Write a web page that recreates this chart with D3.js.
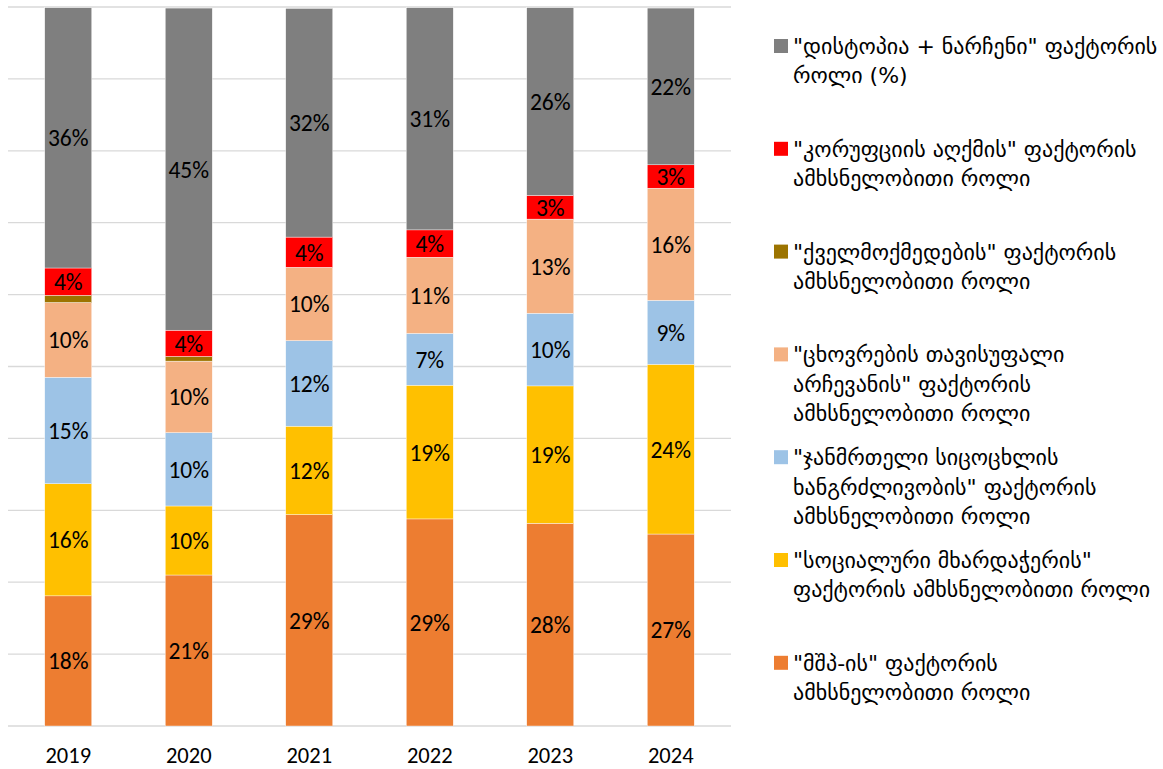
<!DOCTYPE html>
<html>
<head>
<meta charset="utf-8">
<script src="https://cdn.jsdelivr.net/npm/d3@7"></script>
<style>
  body { margin: 0; background: #fff; }
  #chart { width: 1163px; height: 769px; }
</style>
</head>
<body>
<div id="chart"></div>
<script>
// data (% shares, stacked bottom -> top)
var years = ["2019", "2020", "2021", "2022", "2023", "2024"];
var gdp        = [18.1, 21.0, 29.4, 28.8, 28.2, 26.7];
var social     = [15.6, 9.6, 12.3, 18.6, 19.1, 23.6];
var health     = [14.8, 10.2, 11.9, 7.2, 10.1, 8.9];
var freedom    = [10.4, 9.95, 10.2, 10.6, 13.1, 15.6];
var generosity = [1.0, 0.65, 0, 0, 0, 0];
var corruption = [3.8, 3.65, 4.2, 3.8, 3.3, 3.25];
var dystopia   = [36.2, 44.8, 31.8, 30.9, 26.1, 21.8];

var keys = ["gdp", "social", "health", "freedom", "generosity", "corruption", "dystopia"];
var colors = ["#ED7D31", "#FFC000", "#9DC3E6", "#F4B183", "#9C7400", "#FF0000", "#7F7F7F"];
var showLabel = [true, true, true, true, false, true, true];

// legend text, one array of lines per series (same order as keys)
var legendLines = [
  ["\"მშპ-ის\" ფაქტორის", "ამხსნელობითი როლი"],
  ["\"სოციალური მხარდაჭერის\"", "ფაქტორის ამხსნელობითი როლი"],
  ["\"ჯანმრთელი სიცოცხლის", "ხანგრძლივობის\" ფაქტორის", "ამხსნელობითი როლი"],
  ["\"ცხოვრების თავისუფალი", "არჩევანის\" ფაქტორის", "ამხსნელობითი როლი"],
  ["\"ქველმოქმედების\" ფაქტორის", "ამხსნელობითი როლი"],
  ["\"კორუფციის აღქმის\" ფაქტორის", "ამხსნელობითი როლი"],
  ["\"დისტოპია + ნარჩენი\" ფაქტორის", "როლი (%)"]
];

var rows = years.map(function(y, i) {
  return { year: y, gdp: gdp[i], social: social[i], health: health[i], freedom: freedom[i],
           generosity: generosity[i], corruption: corruption[i], dystopia: dystopia[i] };
});

var width = 1163, height = 769;
var svg = d3.select("#chart").append("svg")
  .attr("width", width)
  .attr("height", height);

var x = d3.scaleBand()
  .domain(years)
  .range([8, 731])
  .paddingInner(0.61)
  .paddingOuter(0.305);

var y = d3.scaleLinear()
  .domain([0, 100])
  .range([726, 7]);

// gridlines
svg.append("g")
  .selectAll("line")
  .data(y.ticks(10))
  .enter().append("line")
    .attr("x1", 8).attr("x2", 731)
    .attr("y1", d => y(d)).attr("y2", d => y(d))
    .attr("stroke", "#D9D9D9")
    .attr("stroke-width", 1.3);

var stack = d3.stack().keys(keys)(rows);

var layer = svg.append("g")
  .selectAll("g")
  .data(stack)
  .enter().append("g")
    .attr("fill", (d, i) => colors[i]);

layer.selectAll("rect")
  .data(d => d)
  .enter().append("rect")
    .attr("x", d => x(d.data.year))
    .attr("width", x.bandwidth())
    .attr("y", d => y(d[1]))
    .attr("height", d => y(d[0]) - y(d[1]))
    .attr("stroke", "#fff")
    .attr("stroke-width", 0.4);

// value labels
var fmt = d3.format(".0f");
stack.forEach(function(s, i) {
  if (!showLabel[i]) return;
  svg.append("g")
    .selectAll("text")
    .data(s)
    .enter().append("text")
      .attr("x", d => x(d.data.year) + x.bandwidth() / 2)
      .attr("y", d => (y(d[0]) + y(d[1])) / 2)
      .attr("dy", "0.36em")
      .attr("text-anchor", "middle")
      .style("font-family", "Carlito, Calibri, Lato, sans-serif")
      .style("font-size", "23.5px")
      .style("fill", "#000")
      .text(d => fmt(d[1] - d[0]) + "%");
});

// x axis labels
var xAxis = svg.append("g")
  .attr("transform", "translate(0,737)")
  .call(d3.axisBottom(x).tickSize(0).tickPadding(10));
xAxis.select(".domain").remove();
xAxis.selectAll("text")
  .style("font-family", "Carlito, Calibri, Lato, sans-serif")
  .style("font-size", "22.5px")
  .style("fill", "#000");

// legend (top to bottom = reverse stack order)
var legendTop = 46, legendStep = 102.8, lineH = 29.5;
var legend = svg.append("g")
  .selectAll("g")
  .data(keys.map((k, i) => i).reverse())
  .enter().append("g")
    .attr("transform", (d, j) => "translate(774," + (legendTop + j * legendStep) + ")");

legend.append("rect")
  .attr("x", 0).attr("y", -7)
  .attr("width", 14).attr("height", 14)
  .attr("fill", d => colors[d]);

legend.append("text")
  .style("font-family", "'DejaVu Sans', sans-serif")
  .style("font-size", "22px")
  .style("fill", "#000")
  .selectAll("tspan")
  .data(d => legendLines[d])
  .enter().append("tspan")
    .attr("x", 19)
    .attr("y", (d, k) => k * lineH)
    .attr("dy", "0.36em")
    .text(d => d);
</script>
</body>
</html>
